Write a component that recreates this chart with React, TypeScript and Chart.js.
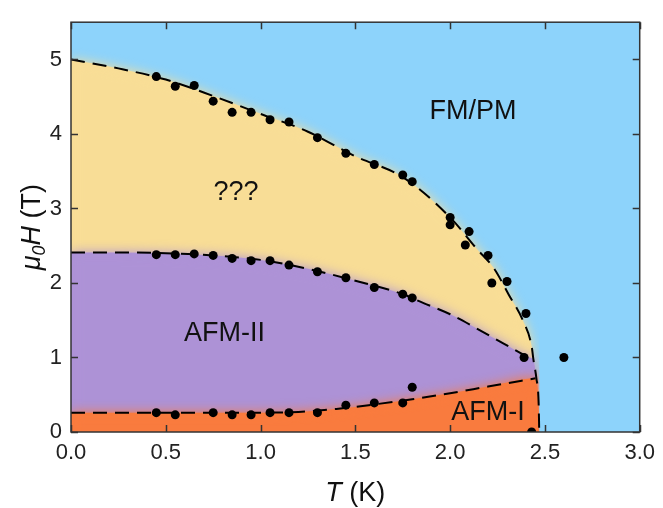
import React, { useEffect, useRef } from 'react';
import { Chart, registerables } from 'chart.js';

const FONT = '"Liberation Sans", Arial, Helvetica, sans-serif';
const BLUE = '#8DD3FB';
const YELLOW = '#F8DD96';
const PURPLE = '#AD92D6';
const ORANGE = '#F97B3E';

// measured points (T in K, mu0H in T)
const upperT = [0.45, 0.55, 0.65, 0.75, 0.85, 0.95, 1.05, 1.15, 1.3, 1.45, 1.6, 1.75, 1.8, 2.0, 2.0, 2.1, 2.08, 2.2, 2.22, 2.3, 2.4];
const upperH = [4.77, 4.64, 4.65, 4.44, 4.29, 4.29, 4.19, 4.16, 3.95, 3.74, 3.59, 3.45, 3.36, 2.88, 2.78, 2.69, 2.51, 2.37, 2.0, 2.02, 1.59];
const middleT = [0.45, 0.55, 0.65, 0.75, 0.85, 0.95, 1.05, 1.15, 1.3, 1.45, 1.6, 1.75, 1.8];
const middleH = [2.38, 2.38, 2.39, 2.37, 2.33, 2.3, 2.3, 2.24, 2.15, 2.07, 1.94, 1.85, 1.8];
const lowerT = [0.45, 0.55, 0.75, 0.85, 0.95, 1.05, 1.15, 1.3, 1.45, 1.6, 1.75, 1.8];
const lowerH = [0.26, 0.23, 0.26, 0.23, 0.23, 0.26, 0.26, 0.26, 0.36, 0.39, 0.39, 0.6];
const extraT = [2.39, 2.6, 2.43];
const extraH = [1.0, 1.0, 0.0];

// phase boundary guide lines
const upperLineT = [0, 0.25, 0.5, 0.75, 1.0, 1.25, 1.5, 1.75, 2.0, 2.14, 2.23, 2.31, 2.385, 2.43, 2.44, 2.455, 2.467, 2.47];
const upperLineH = [5.0, 4.88, 4.73, 4.51, 4.27, 4.03, 3.7, 3.42, 2.88, 2.46, 2.2, 1.84, 1.49, 1.15, 0.96, 0.72, 0.375, 0];
const middleLineT = [0, 0.25, 0.5, 0.75, 1.0, 1.25, 1.5, 1.75, 1.86, 2.0, 2.14, 2.28, 2.385, 2.42];
const middleLineH = [2.41, 2.41, 2.4, 2.37, 2.31, 2.19, 2.03, 1.85, 1.73, 1.58, 1.39, 1.19, 1.04, 1.0];
const lowerLineT = [0, 0.5, 1.0, 1.2, 1.4, 1.6, 1.8, 2.0, 2.2, 2.45];
const lowerLineH = [0.26, 0.26, 0.26, 0.27, 0.31, 0.37, 0.44, 0.52, 0.61, 0.72];

// axis ticks
const xTicks = [0, 0.5, 1.0, 1.5, 2.0, 2.5, 3.0];
const yTicks = [0, 1, 2, 3, 4, 5];

// region labels (data coords)
const regionLabels = ['FM/PM', '???', 'AFM-II', 'AFM-I'];
const regionT = [2.12, 0.87, 0.81, 2.2];
const regionH = [4.3, 3.22, 1.32, 0.26];

const zip = (t: number[], h: number[]) => t.map((v, i) => ({ x: v, y: h[i] }));

const bgBlurPlugin = {
  id: 'bgBlur',
  beforeDatasetsDraw(chart: any) {
    const { ctx, chartArea: a } = chart;
    ctx.save();
    ctx.fillStyle = BLUE;
    ctx.fillRect(a.left, a.top, a.right - a.left, a.bottom - a.top);
    ctx.restore();
  },
  beforeDatasetDraw(chart: any, args: any) {
    const ds = chart.data.datasets[args.index];
    if (ds && ds.blur) {
      chart.ctx.save();
      chart.ctx.filter = 'blur(' + ds.blur + 'px)';
    }
  },
  afterDatasetDraw(chart: any, args: any) {
    const ds = chart.data.datasets[args.index];
    if (ds && ds.blur) {
      chart.ctx.restore();
    }
  },
};

Chart.register(bgBlurPlugin);
Chart.register(...registerables);

const overlayPlugin = {
  id: 'overlay',
  afterDraw(chart: any) {
    const { ctx, chartArea: a, scales } = chart;
    const xs = scales.x;
    const ys = scales.y;
    ctx.save();
    ctx.strokeStyle = '#333';
    ctx.lineWidth = 1.5;
    ctx.strokeRect(a.left, a.top, a.right - a.left, a.bottom - a.top);
    ctx.beginPath();
    const tl = 7;
    xs.ticks.forEach((t: any) => {
      const px = Math.round(xs.getPixelForValue(t.value)) + 0.5;
      ctx.moveTo(px, a.bottom);
      ctx.lineTo(px, a.bottom - tl);
      ctx.moveTo(px, a.top);
      ctx.lineTo(px, a.top + tl);
    });
    ys.ticks.forEach((t: any) => {
      const py = Math.round(ys.getPixelForValue(t.value)) + 0.5;
      ctx.moveTo(a.left, py);
      ctx.lineTo(a.left + tl, py);
      ctx.moveTo(a.right, py);
      ctx.lineTo(a.right - tl, py);
    });
    ctx.stroke();

    // region labels
    ctx.fillStyle = '#111';
    ctx.font = '27px ' + FONT;
    ctx.textAlign = 'center';
    ctx.textBaseline = 'middle';
    regionLabels.forEach((s, i) => {
      ctx.fillText(s, xs.getPixelForValue(regionT[i]), ys.getPixelForValue(regionH[i]));
    });

    // x title: T (K)
    ctx.textAlign = 'left';
    ctx.textBaseline = 'alphabetic';
    const f1 = 'italic 27px ' + FONT;
    const f2 = '27px ' + FONT;
    ctx.font = f1;
    const w1 = ctx.measureText('T').width;
    ctx.font = f2;
    const w2 = ctx.measureText(' (K)').width;
    const cx = (a.left + a.right) / 2;
    const x0 = cx - (w1 + w2) / 2;
    const by = 501;
    ctx.font = f1;
    ctx.fillText('T', x0, by);
    ctx.font = f2;
    ctx.fillText(' (K)', x0 + w1, by);

    // y title: mu0H (T)
    const parts = [
      { s: 'μ', f: 'italic 27px ' + FONT, dy: 0 },
      { s: '0', f: 'italic 18px ' + FONT, dy: 5 },
      { s: 'H', f: 'italic 27px ' + FONT, dy: 0 },
      { s: ' (T)', f: '27px ' + FONT, dy: 0 },
    ];
    let total = 0;
    const widths = parts.map((p) => {
      ctx.font = p.f;
      const w = ctx.measureText(p.s).width;
      total += w;
      return w;
    });
    ctx.translate(40, (a.top + a.bottom) / 2);
    ctx.rotate(-Math.PI / 2);
    let u = -total / 2;
    parts.forEach((p, i) => {
      ctx.font = p.f;
      ctx.fillText(p.s, u, p.dy);
      u += widths[i];
    });
    ctx.restore();
  },
};

export default function App() {
  const ref = useRef<HTMLCanvasElement | null>(null);
  useEffect(() => {
    if (!ref.current) return;
    const purpleT = middleLineT.concat(upperLineT.filter((_, i) => upperLineH[i] < 1.0));
    const purpleH = middleLineH.concat(upperLineH.filter((v) => v < 1.0));
    const orangeT = lowerLineT.concat(upperLineT.filter((_, i) => upperLineH[i] < 0.72));
    const orangeH = lowerLineH.concat(upperLineH.filter((v) => v < 0.72));

    const pointDs = (t: number[], h: number[]) => ({
      data: zip(t, h),
      showLine: false,
      pointRadius: 4.5,
      pointHoverRadius: 4.5,
      pointBackgroundColor: '#000',
      pointBorderWidth: 0,
      borderColor: '#000',
      order: 1,
    });
    const dashDs = (t: number[], h: number[]) => ({
      data: zip(t, h),
      borderColor: '#000',
      borderWidth: 2,
      borderDash: [14, 8],
      pointRadius: 0,
      fill: false,
      cubicInterpolationMode: 'monotone',
      order: 2,
    });
    const fillDs = (t: number[], h: number[], color: string, order: number, blur: number) => ({
      data: zip(t, h),
      borderWidth: 0,
      borderColor: 'rgba(0,0,0,0)',
      backgroundColor: color,
      pointRadius: 0,
      fill: { value: -1 },
      cubicInterpolationMode: 'monotone',
      order,
      blur,
    });

    const chart = new Chart(ref.current, {
      type: 'line',
      data: {
        datasets: [
          pointDs(upperT, upperH),
          pointDs(middleT, middleH),
          pointDs(lowerT, lowerH),
          pointDs(extraT, extraH),
          dashDs(upperLineT, upperLineH),
          dashDs(middleLineT, middleLineH),
          dashDs(lowerLineT, lowerLineH),
          fillDs(upperLineT, upperLineH, YELLOW, 10, 0),
          fillDs(upperLineT, upperLineH, YELLOW, 9, 6),
          fillDs(purpleT, purpleH, PURPLE, 8, 0),
          fillDs(purpleT, purpleH, PURPLE, 7, 6),
          fillDs(orangeT, orangeH, ORANGE, 6, 0),
          fillDs(orangeT, orangeH, ORANGE, 5, 6),
        ] as any,
      },
      options: {
        animation: false,
        responsive: true,
        maintainAspectRatio: false,
        layout: { padding: { top: 7, right: 19, bottom: 0, left: 0 } },
        plugins: {
          legend: { display: false },
          tooltip: { enabled: false },
          filler: { drawTime: 'beforeDatasetDraw' },
        },
        scales: {
          x: {
            type: 'linear',
            min: 0,
            max: 3,
            afterFit: (s: any) => {
              s.height = 76;
            },
            afterBuildTicks: (s: any) => {
              s.ticks = xTicks.map((v) => ({ value: v }));
            },
            ticks: {
              padding: 8,
              color: '#222',
              font: { family: FONT, size: 22 },
              maxRotation: 0,
              autoSkip: false,
              callback: (v: any) => Number(v).toFixed(1),
            },
            grid: { display: false, drawTicks: false },
            border: { display: false },
          },
          y: {
            type: 'linear',
            min: 0,
            max: 5.5,
            afterFit: (s: any) => {
              s.width = 71;
            },
            afterBuildTicks: (s: any) => {
              s.ticks = yTicks.map((v) => ({ value: v }));
            },
            ticks: {
              padding: 9,
              color: '#222',
              font: { family: FONT, size: 22 },
              autoSkip: false,
              callback: (v: any) => String(v),
            },
            grid: { display: false, drawTicks: false },
            border: { display: false },
          },
        },
      } as any,
      plugins: [overlayPlugin],
    });
    return () => chart.destroy();
  }, []);

  return (
    <div style={{ position: 'fixed', left: 0, top: 0, width: 663, height: 508, background: '#fff' }}>
      <canvas ref={ref} />
    </div>
  );
}
